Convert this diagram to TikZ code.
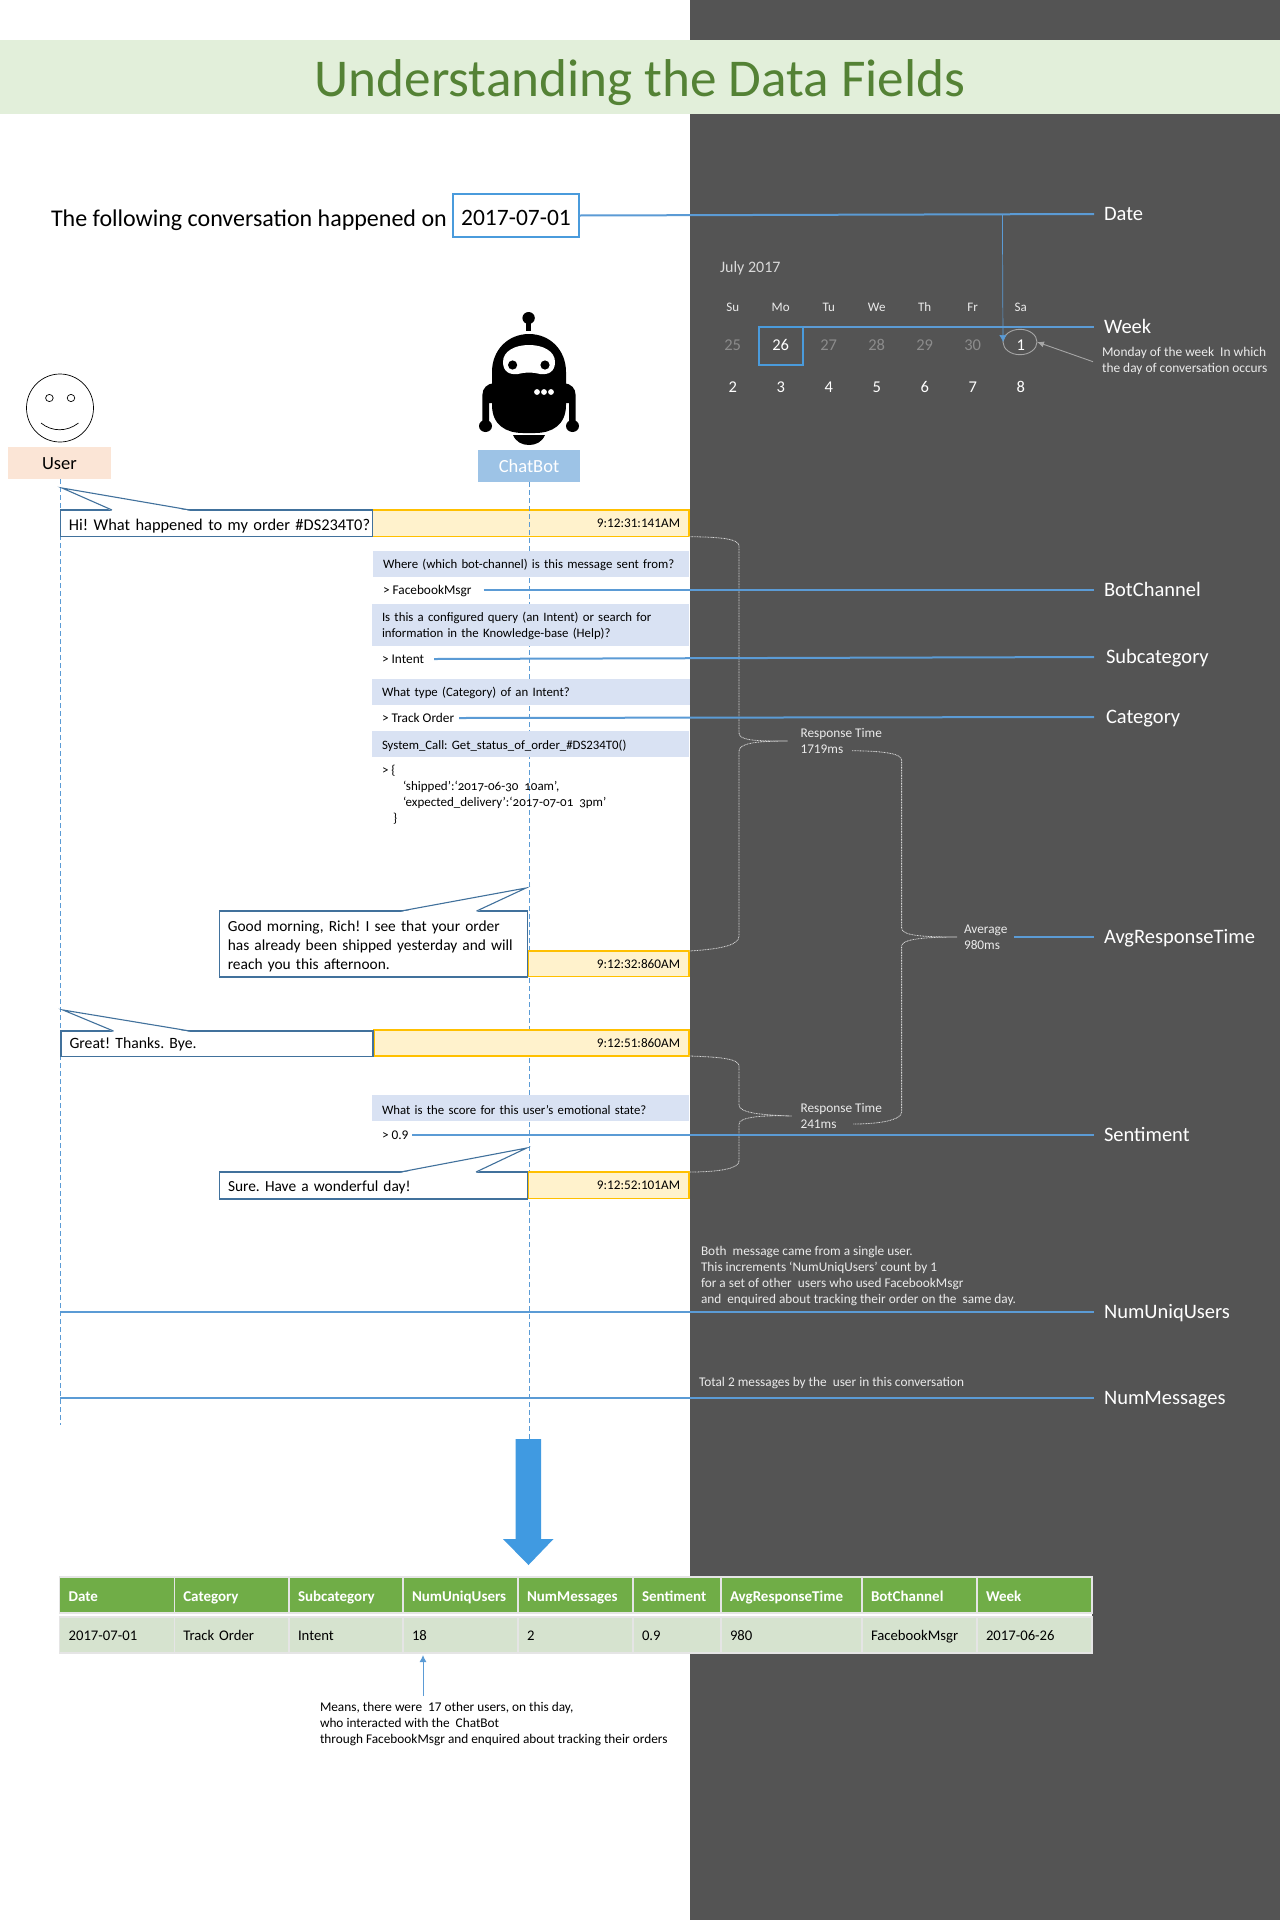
\documentclass[tikz,border=0pt]{standalone}
\usepackage{fontspec}
\setmainfont{Carlito}
\usetikzlibrary{arrows.meta,shapes.geometric}
\definecolor{panelgrey}{HTML}{545454}
\definecolor{bandgreen}{HTML}{E2EFDA}
\definecolor{titlegreen}{HTML}{548235}
\definecolor{linkblue}{HTML}{5B9BD5}
\definecolor{boxblue}{HTML}{4A9BDC}
\definecolor{msgblue}{HTML}{41719C}
\definecolor{tsyellow}{HTML}{FFF2CC}
\definecolor{tsborder}{HTML}{FFC000}
\definecolor{askblue}{HTML}{D9E2F3}
\definecolor{usercol}{HTML}{FBE5D6}
\definecolor{botcol}{HTML}{9DC3E6}
\definecolor{bigarrow}{HTML}{409AE1}
\definecolor{headgreen}{HTML}{70AD47}
\definecolor{rowgreen}{HTML}{D6E3CF}
\definecolor{calgrey}{HTML}{8C8C8C}
\newcommand{\fs}[1]{\fontsize{#1pt}{16pt}\selectfont}

\begin{document}
\frenchspacing
\begin{tikzpicture}
  [x=1pt,y=-1pt,
   every node/.style={inner sep=0pt,outer sep=0pt},
   oneline/.style={execute at begin node={\rule[-.2em]{0pt}{.9em}}},
   lowline/.style={execute at begin node={\rule[-.2em]{0pt}{1.05em}}},
   small/.style={font=\fs{13.3},lowline,anchor=west},
   smallblock/.style={font=\fs{13.3},align=left,anchor=west},
   darknote/.style={smallblock,text=white!92!black},
   msgbox/.style={draw=msgblue,line width=1.1pt,fill=white,anchor=north west,inner xsep=8.5pt,align=left,font=\fontsize{16pt}{18.8pt}\selectfont},
   msgline/.style={execute at begin node={\rule{0pt}{1em}}},
   tsbox/.style={draw=tsborder,line width=1.1pt,fill=tsyellow,anchor=north west,inner xsep=9pt,align=right,font=\fs{13.2}},
   askbox/.style={fill=askblue,anchor=north west,inner xsep=10pt,align=left,font=\fs{12.8},execute at begin node={\rule{0pt}{.95em}}},
   fieldname/.style={font=\fs{20.5},text=white,lowline,anchor=west,inner xsep=10pt},
   fieldline/.style={draw=linkblue,line width=2pt},
   bracelink/.style={draw=white!85!black,line width=.8pt,dash pattern=on .9pt off .7pt},
   actor/.style={anchor=center,font=\fs{18.5},lowline},
   day/.style={anchor=center,font=\fs{16.5},oneline},
   dayhead/.style={anchor=center,font=\fs{13},text=white!92!black,oneline},
   cellline/.style={execute at begin node={\rule[-.2em]{0pt}{1.2em}}},
   hdcell/.style={draw=white!90!black,line width=1.2pt,fill=headgreen,text=white,font=\bfseries\fs{15},cellline,anchor=north west,inner xsep=9pt,minimum height=36pt,align=left},
   valcell/.style={draw=white!90!black,line width=1.2pt,fill=rowgreen,font=\fs{14.7},cellline,anchor=north west,inner xsep=9pt,minimum height=36pt,align=left}]

  % backdrop
  \useasboundingbox (0,0) rectangle (1280,1920);
  \fill[white] (0,0) rectangle (1280,1920);
  \fill[panelgrey] (690,0) rectangle (1280,1920);
  \node (band) [fill=bandgreen,minimum width=1280pt,minimum height=74pt] at (640,77) {};
  \node (title) [font=\fs{53.2},text=titlegreen] at (640,83) {Understanding the Data Fields};

  % date line
  \node (intro) [font=\fs{24},oneline,anchor=west] at (51,220) {The following conversation happened on};
  \node (datebox) [draw=boxblue,line width=2.2pt,font=\fs{23.5},minimum width=126pt,minimum height=43pt] at (516,215.5) {\rule{0pt}{.9em}2017-07-01};
  \node (datef) [fieldname] at (1094,214) {Date};

  % calendar
  \node (july) [font=\fs{16},text=white!85!black,oneline,anchor=west] at (720,268.5) {July 2017};
  \foreach \name [count=\i from 0] in {Su,Mo,Tu,We,Th,Fr,Sa}
    \node (head\name) [dayhead] at ({732.7+48*\i},308.5) {\name};
  \foreach \d/\col [count=\i from 0] in {25/calgrey,26/white,27/calgrey,28/calgrey,29/calgrey,30/calgrey,1/white}
    \node (cal\d) [day,text=\col] at ({732.7+48*\i},346.5) {\d};
  \foreach \d [count=\i from 0] in {2,3,4,5,6,7,8}
    \node (cal\d) [day,text=white] at ({732.7+48*\i},388.5) {\d};
  \node (weekbox) [draw=boxblue,line width=2.2pt,minimum width=44pt,minimum height=38pt] at (781,346) {};
  \node (dayone) [ellipse,draw=white!65!black,line width=.9pt,minimum width=34pt,minimum height=25.4pt] at (1020,342) {};
  \node (weekf) [fieldname,oneline] at (1094,327) {Week};
  \node (weeknote) [font=\fontsize{13.4pt}{16pt}\selectfont,align=left,anchor=west,text=white!92!black] at (1102,361) {Monday of the week\ \ In which\\the day of conversation occurs};
  \coordinate (datetap) at (1002.4,214.2);
  \coordinate (noteout) at (1093,361.7);
  \draw[draw=linkblue,line width=.7pt,-{Latex[length=7pt,width=7.5pt]}] (datetap) -- (dayone.west);
  \draw[draw=white!65!black,line width=.9pt,-{Latex[length=7pt,width=6pt]}] (noteout) -- (dayone.east);

  % user
  \draw[line width=.7pt] (60,408) ellipse [x radius=33.5,y radius=34];
  \draw[line width=.7pt] (49.4,398) ellipse [x radius=3.8,y radius=3.6];
  \draw[line width=.7pt] (71,398) ellipse [x radius=3.8,y radius=3.6];
  \draw[line width=.7pt] (41,423) .. controls (52,432) and (67,432) .. (78.5,423);
  \node (user) [actor,fill=usercol,minimum width=103pt,minimum height=32pt] at (59.5,463) {User};

  % chatbot
  \fill (528.6,318) ellipse [x radius=6.2,y radius=6];
  \fill (526,321) rectangle (531,331);
  \fill (492,372) .. controls (492,350) and (508,334) .. (529,334) .. controls (550,334) and (566,350) .. (566,372) -- (566,405) .. controls (566,425) and (552,433) .. (535,433) -- (523,433) .. controls (506,433) and (492,425) .. (492,405) -- cycle;
  \fill (513,435) .. controls (516,442) and (522,445) .. (529,445) .. controls (536,445) and (542,442) .. (545,435) -- cycle;
  \foreach \s in {-1,1}{
    \begin{scope}[shift={(529,0)},xscale=\s]
      \fill (35,383) .. controls (42,384) and (46.6,388) .. (46.6,395) -- (46.6,422) -- (40,422) -- (40,403) -- (36,403) -- cycle;
      \fill (43.5,426) ellipse [x radius=6.5,y radius=6];
    \end{scope}
  }
  \fill[white] (503,362) .. controls (503,351) and (515,345) .. (529,345) .. controls (543,345) and (555,351) .. (555,362) .. controls (555,372) and (548,375) .. (540,374) .. controls (533,372) and (525,372) .. (518,374) .. controls (510,375) and (503,372) .. (503,362) -- cycle;
  \fill (512.6,365) circle (4.6);
  \fill (545,365) circle (4.6);
  \foreach \dx in {537,544,551}
    \fill[white] (\dx,392) circle (2.9);
  \node (bot) [actor,text=white,fill=botcol,minimum width=102pt,minimum height=32pt] at (529,466) {ChatBot};

  % lifelines and first stamp
  \coordinate (userend) at (60.4,1425);
  \coordinate (botend) at (529.4,1439);
  \node (tsA) [tsbox,text width=298.4pt,minimum height=26.7pt] at (372.6,510) {9:12:31:141AM};
  \draw[draw=linkblue,line width=.8pt,dash pattern=on 5pt off 3pt] (user.south) ++(.9,0) -- (userend);
  \draw[draw=linkblue,line width=.8pt,dash pattern=on 5pt off 3pt] (bot.south) ++(.4,0) -- (botend);

  % stamps
  \node (tsB) [tsbox,text width=143pt,minimum height=25.5pt] at (528,951) {9:12:32:860AM};
  \node (tsC) [tsbox,text width=297pt,minimum height=26pt] at (374,1030) {9:12:51:860AM};
  \node (tsD) [tsbox,text width=143pt,minimum height=26.6pt] at (528,1172) {9:12:52:101AM};

  % messages
  \node (msgA) [msgbox,msgline,font=\fontsize{16.4pt}{18.8pt}\selectfont,text width=295.2pt,minimum height=26.7pt] at (60.4,510) {\mbox{Hi! What happened to my order \#DS234T0?}};
  \node (msgB) [msgbox,msgline,font=\fontsize{15.4pt}{18.8pt}\selectfont,text width=291.2pt,minimum height=66pt] at (219.3,911) {Good morning, Rich! I see that your order\\has already been shipped yesterday and will\\reach you this afternoon.};
  \node (msgC) [msgbox,font=\fontsize{15.7pt}{18.8pt}\selectfont,text width=295pt,minimum height=25.7pt] at (61,1031) {Great! Thanks. Bye.};
  \node (msgD) [msgbox,msgline,font=\fontsize{15.4pt}{18.8pt}\selectfont,text width=291.1pt,minimum height=27pt] at (219.5,1172) {Sure. Have a wonderful day!};
  \foreach \ax/\bx/\ey/\tx/\ty in {112/190/510/62/488,401/476.6/911/526/888,113.5/190/1031/63/1010,400.4/476/1172/526.7/1148}{
    \fill[white] (\ax,\ey+.8) -- (\tx,\ty) -- (\bx,\ey+.8) -- cycle;
    \draw[draw=msgblue,line width=1.1pt] (\ax,\ey) -- (\tx,\ty) -- (\bx,\ey);
  }

  % bot questions
  \node (askA) [askbox,text width=296pt,minimum height=26pt] at (373,551) {Where (which bot-channel) is this message sent from?};
  \node (askB) [askbox,text width=297pt,minimum height=42pt] at (372,604) {Is this a configured query (an Intent) or search for\\information in the Knowledge-base (Help)?};
  \node (askC) [askbox,text width=298pt,minimum height=26pt] at (372,679) {What type (Category) of an Intent?};
  \node (askD) [askbox,text width=297pt,minimum height=26pt] at (372,731) {System\_Call: Get\_status\_of\_order\_\#DS234T0()};
  \node (askE) [askbox,text width=297pt,minimum height=26pt] at (372,1095) {What is the score for this user’s emotional state?};

  % answers
  \node (ansA) [small,inner xsep=12pt,xshift=-12pt] at (383,590) {> FacebookMsgr};
  \node (ansB) [small,inner xsep=10pt,xshift=-10pt] at (382,659) {> Intent};
  \node (ansC) [small,inner xsep=5pt,xshift=-5pt] at (382,718) {> Track Order};
  \node (ansE) [small,inner xsep=4pt,xshift=-4pt] at (382,1135) {> 0.9};
  \node (json) [font=\fontsize{13pt}{16pt}\selectfont\addfontfeature{Numbers=OldStyle},align=left,anchor=north west] at (382,765) {>\ \{\\\hspace*{21pt}‘shipped’:‘2017-06-30\ \ 10am’,\\\hspace*{21pt}‘expected\_delivery’:‘2017-07-01\ \ 3pm’\\\hspace*{11pt}\}};

  % response times
  \node (rtA) [darknote,inner xsep=13pt,xshift=-13pt] at (800.5,741) {Response Time\\1719ms};
  \node (rtB) [darknote,inner xsep=9pt,xshift=-9pt] at (800.5,1116) {Response Time\\241ms};
  \node (avg) [darknote,inner xsep=7pt,xshift=-7pt] at (964,937) {Average\\980ms};
  \coordinate (rtAout) at (852,750.7);
  \coordinate (rtBout) at (853,1124);
  \draw[bracelink] (tsA.south east) .. controls (722,537) and (739,539) .. (739,546) -- (739,733) .. controls (739,741) and (758,741) .. (rtA.west) .. controls (758,741) and (739,743) .. (739,751) -- (739,936) .. controls (739,945) and (722,949) .. (tsB.north east);
  \draw[bracelink] (rtAout) .. controls (880,751) and (901.6,753) .. (901.6,760) -- (901.6,928) .. controls (901.6,936) and (925,937) .. (avg.west) .. controls (925,937) and (901.6,939) .. (901.6,946) -- (901.6,1112) .. controls (901.6,1120) and (880,1124) .. (rtBout);
  \draw[bracelink] (tsC.south east) .. controls (722,1057) and (739,1059) .. (739,1066) -- (739,1105) .. controls (739,1113) and (762,1115) .. (rtB.west) .. controls (762,1115) and (739,1117) .. (739,1124) -- (739,1161) .. controls (739,1168) and (722,1172) .. (tsD.north east);

  % field names
  \node (botf) [fieldname] at (1094,590) {BotChannel};
  \node (subf) [fieldname,oneline,inner xsep=12pt] at (1094,657) {Subcategory};
  \node (catf) [fieldname,oneline,inner xsep=12pt] at (1094,717) {Category};
  \node (avgf) [fieldname] at (1094,937) {AvgResponseTime};
  \node (senf) [fieldname] at (1094,1135) {Sentiment};
  \node (uniqf) [fieldname] at (1094,1312) {NumUniqUsers};
  \node (msgsf) [fieldname] at (1094,1398) {NumMessages};
  \coordinate (uniqstart) at (60,1312);
  \coordinate (msgsstart) at (60,1398);
  \foreach \from/\to in {datebox.east/datef.west,weekbox.north east/weekf.west,ansA.east/botf.west,ansB.east/subf.west,ansC.east/catf.west,avg.east/avgf.west,ansE.east/senf.west,uniqstart/uniqf.west,msgsstart/msgsf.west}
    \draw[fieldline] (\from) -- (\to);

  % notes on the panel
  \node (uniqnote) [darknote] at (701,1276) {Both\ \ message came from a single user.\\This increments ‘NumUniqUsers’ count by 1\\for a set of other\ \ users who used FacebookMsgr\\and\ \ enquired about tracking their order on the\ \ same day.};
  \node (msgsnote) [darknote] at (699,1383) {Total 2 messages by the\ \ user in this conversation};

  % big arrow
  \fill[bigarrow] (515.5,1439) -- (541,1439) -- (541,1539) -- (553.5,1539) -- (528.5,1565) -- (503,1539) -- (515.5,1539) -- cycle;

  % result table
  \fill[white] (60,1612) rectangle (1092,1618);
  \foreach \cx/\colw/\hd/\val [count=\i] in {59.6/114.7/Date/2017-07-01,174.3/114.7/Category/Track Order,289/114/Subcategory/Intent,403/115/NumUniqUsers/18,518/115/NumMessages/2,633/88/Sentiment/0.9,721/141/AvgResponseTime/980,862/115/BotChannel/FacebookMsgr,977/115/Week/2017-06-26}{
    \pgfmathsetmacro\tw{\colw-18}
    \node (hd\i) [hdcell,text width=\tw pt] at (\cx,1577) {\hd};
    \node (val\i) [valcell,text width=\tw pt] at (\cx,1617) {\val};
  }
  \node (tablenote) [smallblock,text=black] at (320,1724) {Means, there were\ \ 17 other users, on this day,\\who interacted with the\ \ ChatBot\\through FacebookMsgr and enquired about tracking their orders};
  \coordinate (noteup) at (423,1696);
  \coordinate (celltip) at (423,1655);
  \draw[draw=linkblue,line width=1pt,-{Latex[length=7pt,width=7pt]}] (noteup) -- (celltip);

\end{tikzpicture}
\end{document}
